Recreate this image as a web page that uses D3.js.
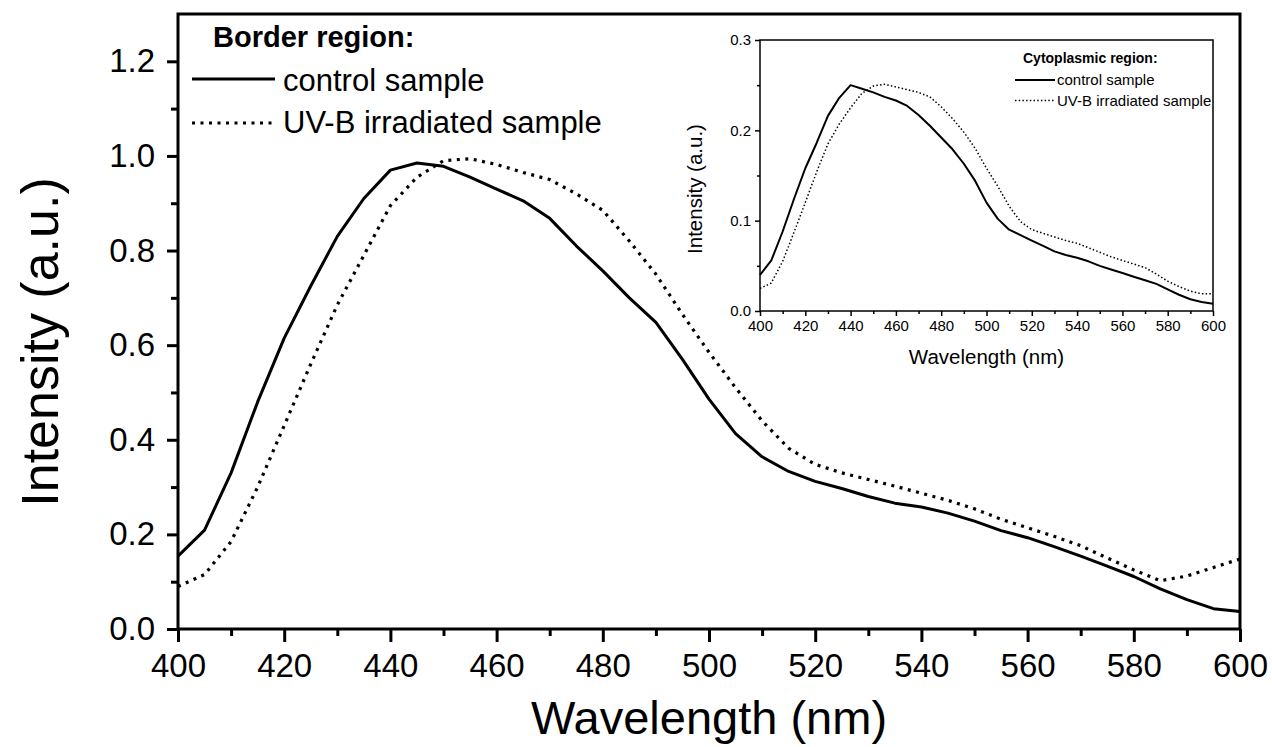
<!DOCTYPE html>
<html><head><meta charset="utf-8">
<script src="https://cdn.jsdelivr.net/npm/d3@7"></script>
<style>
body{margin:0;background:#fff;}
svg{display:block;font-family:"Liberation Sans",Arial,Helvetica,sans-serif;}
</style></head>
<body><svg id="c" width="1272" height="747"></svg>
<script>
// ---- data ----
const wavelengths = d3.range(400, 601, 5);
const borderControl = [0.154,0.209,0.33,0.48,0.615,0.725,0.83,0.91,0.97,0.985,0.978,0.955,0.93,0.905,0.868,0.81,0.757,0.70,0.648,0.57,0.486,0.413,0.364,0.333,0.312,0.297,0.28,0.266,0.258,0.245,0.228,0.208,0.193,0.174,0.154,0.133,0.111,0.085,0.062,0.043,0.037];
const borderUVB = [0.09,0.115,0.185,0.30,0.43,0.56,0.685,0.79,0.895,0.955,0.99,0.994,0.982,0.965,0.95,0.92,0.885,0.82,0.75,0.665,0.585,0.51,0.44,0.382,0.348,0.33,0.316,0.302,0.287,0.272,0.254,0.232,0.214,0.196,0.176,0.15,0.125,0.102,0.112,0.13,0.148];
const cytoControl = [0.04,0.056,0.088,0.124,0.158,0.186,0.216,0.236,0.25,0.246,0.242,0.237,0.233,0.227,0.217,0.205,0.192,0.179,0.163,0.144,0.12,0.102,0.09,0.084,0.078,0.072,0.066,0.062,0.059,0.055,0.05,0.046,0.042,0.038,0.034,0.03,0.024,0.018,0.013,0.01,0.008];
const cytoUVB = [0.025,0.031,0.055,0.087,0.12,0.154,0.185,0.207,0.225,0.241,0.249,0.251,0.248,0.245,0.242,0.237,0.226,0.213,0.198,0.18,0.158,0.138,0.116,0.099,0.09,0.086,0.082,0.078,0.075,0.07,0.065,0.06,0.056,0.052,0.048,0.041,0.033,0.027,0.022,0.019,0.019];
const mainXTicks = [400,420,440,460,480,500,520,540,560,580,600];
const mainYTicks = [0.0,0.2,0.4,0.6,0.8,1.0,1.2];
const insetXTicks = [400,420,440,460,480,500,520,540,560,580,600];
const insetYTicks = [0.0,0.1,0.2,0.3];
const mainLegend = ["control sample","UV-B irradiated sample"];
const mainLegendTitle = "Border region:";
const insetLegendTitle = "Cytoplasmic region:";
const xTitle = "Wavelength (nm)";
const yTitle = "Intensity (a.u.)";

const svg = d3.select("#c");

function drawPanel(cfg){
  const g = svg.append("g");
  const x = d3.scaleLinear().domain([400,600]).range([cfg.left,cfg.right]);
  const y = d3.scaleLinear().domain([0,cfg.ymax]).range([cfg.bottom,cfg.top]);
  // minor ticks
  const xMinor = d3.range(410,600,20);
  const yMinor = d3.range(cfg.yMinorStep, cfg.ymax, cfg.yMinorStep*2).filter(v=>v<cfg.ymax-1e-9);
  g.append("g").attr("transform",`translate(0,${cfg.bottom})`)
    .call(d3.axisBottom(x).tickValues(xMinor).tickSize(cfg.minor).tickFormat(""))
    .call(s=>s.select(".domain").remove())
    .selectAll("line").attr("stroke","#000").attr("stroke-width",cfg.tickW);
  g.append("g").attr("transform",`translate(${cfg.left},0)`)
    .call(d3.axisLeft(y).tickValues(yMinor).tickSize(cfg.minor).tickFormat(""))
    .call(s=>s.select(".domain").remove())
    .selectAll("line").attr("stroke","#000").attr("stroke-width",cfg.tickW);
  // major axes
  const xa = g.append("g").attr("transform",`translate(0,${cfg.bottom})`)
    .call(d3.axisBottom(x).tickValues(cfg.xTicks).tickSize(cfg.majorX).tickPadding(cfg.xPad).tickFormat(d3.format("d")));
  const ya = g.append("g").attr("transform",`translate(${cfg.left},0)`)
    .call(d3.axisLeft(y).tickValues(cfg.yTicks).tickSize(cfg.majorY).tickPadding(cfg.yPad).tickFormat(d3.format(".1f")));
  [xa,ya].forEach(a=>{
    a.select(".domain").remove();
    a.selectAll("line").attr("stroke","#000").attr("stroke-width",cfg.tickW);
    a.selectAll("text").attr("fill","#000").attr("font-size",cfg.tickFont).attr("font-family","Liberation Sans, Arial, sans-serif");
  });
  // frame
  g.append("rect").attr("x",cfg.left).attr("y",cfg.top).attr("width",cfg.right-cfg.left).attr("height",cfg.bottom-cfg.top)
    .attr("fill","none").attr("stroke","#000").attr("stroke-width",cfg.frameW);
  // lines
  const line = (vals)=>d3.line().x((d,i)=>x(wavelengths[i])).y(d=>y(d))(vals);
  g.append("path").attr("d",line(cfg.control)).attr("fill","none").attr("stroke","#000")
    .attr("stroke-width",cfg.lineW).attr("stroke-linejoin","round");
  g.append("path").attr("d",line(cfg.uvb)).attr("fill","none").attr("stroke","#000")
    .attr("stroke-width",cfg.dotW).attr("stroke-dasharray",cfg.dash);
  // titles
  g.append("text").attr("x",(cfg.left+cfg.right)/2).attr("y",cfg.xTitleY).attr("text-anchor","middle")
    .attr("font-size",cfg.xTitleFont).text(xTitle);
  g.append("text").attr("transform",`translate(${cfg.yTitleX},${cfg.yTitleCY}) rotate(-90)`).attr("text-anchor","middle")
    .attr("font-size",cfg.yTitleFont).text(yTitle);
  // legend
  const L = cfg.legend;
  g.append("text").attr("x",L.titleX).attr("y",L.titleY).attr("font-weight","bold").attr("font-size",L.titleFont).text(L.title);
  mainLegend.forEach((t,i)=>{
    const ly = L.lineY[i];
    g.append("line").attr("x1",L.x1).attr("x2",L.x2).attr("y1",ly).attr("y2",ly).attr("stroke","#000")
      .attr("stroke-width",i===0?cfg.lineW:cfg.dotW).attr("stroke-dasharray",i===0?null:cfg.dash);
    g.append("text").attr("x",L.textX).attr("y",L.textY[i]).attr("font-size",L.font).text(t);
  });
  return g;
}

// main panel
drawPanel({left:178,right:1240,top:14,bottom:629,ymax:1.3,yMinorStep:0.1,
  xTicks:mainXTicks,yTicks:mainYTicks,minor:7,majorX:13,majorY:11,xPad:12,yPad:12,tickW:3,frameW:3,
  tickFont:33,xTitleFont:47,yTitleFont:52,lineW:3,dotW:3.2,dash:"3,5.5",
  control:borderControl,uvb:borderUVB,xTitleY:734,yTitleX:58,yTitleCY:342,
  legend:{title:mainLegendTitle,titleX:213,titleY:47,titleFont:29,x1:192,x2:275,lineY:[79,123],textX:283,textY:[91,133],font:31}});

// inset panel
drawPanel({left:760,right:1213,top:40,bottom:311,ymax:0.3,yMinorStep:0.05,
  xTicks:insetXTicks,yTicks:insetYTicks,minor:3,majorX:5,majorY:5,xPad:4,yPad:4,tickW:1.5,frameW:1.5,
  tickFont:15,xTitleFont:20.5,yTitleFont:20.5,lineW:2,dotW:1.5,dash:"1.5,2.2",
  control:cytoControl,uvb:cytoUVB,xTitleY:364,yTitleX:702,yTitleCY:189,
  legend:{title:insetLegendTitle,titleX:1023,titleY:63,titleFont:14,x1:1015,x2:1055,lineY:[80,100.5],textX:1057,textY:[85,106],font:15}});
</script></body></html>
